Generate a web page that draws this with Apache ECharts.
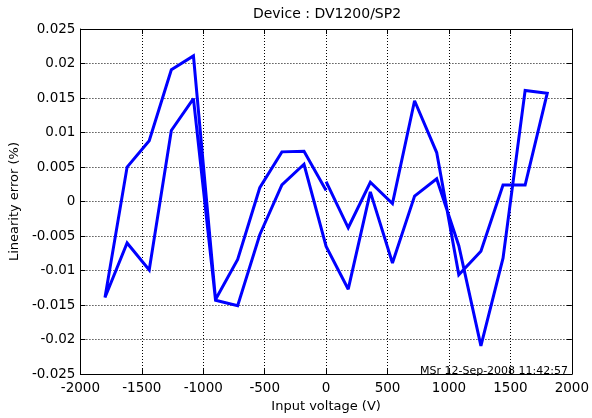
<!DOCTYPE html>
<html>
<head>
<meta charset="utf-8">
<script src="https://cdn.jsdelivr.net/npm/echarts@6/dist/echarts.min.js"></script>
<style>
html,body{margin:0;padding:0;background:#fff;}
#chart{width:592px;height:418px;}
</style>
</head>
<body>
<div id="chart"></div>
<script>
// Sweep 1: 0 V -> +1800 V
const voltsOut = [0, 180, 360, 540, 720, 900, 1080, 1260, 1440, 1620, 1800];
const errOut = [0.0029, -0.0038, 0.0028, -0.0003, 0.0146, 0.0071, -0.0106, -0.0072, 0.0024, 0.0024, 0.0157];
// Sweep 2: +1800 V -> -1800 V
const voltsBack = [1800, 1620, 1440, 1260, 1080, 900, 720, 540, 360, 180, 0, -180, -360, -540, -720, -900, -1080, -1260, -1440, -1620, -1800];
const errBack = [0.0157, 0.0161, -0.0082, -0.0209, -0.0064, 0.0033, 0.0008, -0.0089, 0.0014, -0.0127, -0.0065, 0.0054, 0.0024, -0.0048, -0.0151, -0.0143, 0.0149, 0.0103, -0.0099, -0.0060, -0.0139];
// Sweep 3: -1800 V -> 0 V
const voltsReturn = [-1800, -1620, -1440, -1260, -1080, -900, -720, -540, -360, -180, 0];
const errReturn = [-0.0139, 0.0050, 0.0088, 0.0191, 0.0211, -0.0142, -0.0084, 0.0020, 0.0072, 0.0073, 0.0016];

const xTicks = [-2000, -1500, -1000, -500, 0, 500, 1000, 1500, 2000];
const yTicks = [-0.025, -0.02, -0.015, -0.01, -0.005, 0, 0.005, 0.01, 0.015, 0.02, 0.025];

const titleText = 'Device : DV1200/SP2';
const xName = 'Input voltage (V)';
const yName = 'Linearity error (%)';
const stampText = 'MSr 12-Sep-2008 11:42:57';

const pathData = [];
voltsOut.forEach((v, i) => pathData.push([v, errOut[i]]));
voltsBack.forEach((v, i) => { if (i > 0) pathData.push([v, errBack[i]]); });
voltsReturn.forEach((v, i) => { if (i > 0) pathData.push([v, errReturn[i]]); });

const FONT = 'DejaVu Sans';
const chart = echarts.init(document.getElementById('chart'), null, {renderer: 'canvas'});

const baseX = {
  type: 'value', min: xTicks[0], max: xTicks[xTicks.length - 1], interval: 500,
  axisLine: {onZero: false, lineStyle: {color: '#000', width: 1}},
  axisTick: {inside: true, length: 5, lineStyle: {color: '#000'}}
};
const baseY = {
  type: 'value', min: yTicks[0], max: yTicks[yTicks.length - 1], interval: 0.005,
  axisLine: {onZero: false, lineStyle: {color: '#000', width: 1}},
  axisTick: {inside: true, length: 5, lineStyle: {color: '#000'}}
};

chart.setOption({
  animation: false,
  backgroundColor: '#fff',
  grid: {left: 79, right: 17, top: 29, bottom: 41, containLabel: false},
  xAxis: [
    Object.assign({}, baseX, {
      position: 'bottom',
      name: xName, nameLocation: 'middle', nameGap: 25,
      nameTextStyle: {fontFamily: FONT, fontSize: 13, color: '#000'},
      axisLabel: {fontFamily: FONT, fontSize: 13.5, color: '#000', margin: 7,
        formatter: v => String(v)},
      splitLine: {show: true, lineStyle: {color: '#000', width: 1, type: [1, 2]}}
    }),
    Object.assign({}, baseX, {
      position: 'top', axisLabel: {show: false}, splitLine: {show: false}
    })
  ],
  yAxis: [
    Object.assign({}, baseY, {
      position: 'left',
      name: yName, nameLocation: 'middle', nameGap: 58,
      nameTextStyle: {fontFamily: FONT, fontSize: 13, color: '#000'},
      axisLabel: {fontFamily: FONT, fontSize: 13.5, color: '#000', margin: 5,
        formatter: v => String(parseFloat(v.toFixed(4)))},
      splitLine: {show: true, lineStyle: {color: '#000', width: 1, type: [1, 2]}}
    }),
    Object.assign({}, baseY, {
      position: 'right', axisLabel: {show: false}, splitLine: {show: false}
    })
  ],
  series: [{
    type: 'line',
    data: pathData,
    showSymbol: false,
    symbol: 'none',
    lineStyle: {color: '#0000ff', width: 3, join: 'miter', miterLimit: 2.5, cap: 'butt'},
    z: 5
  }],
  graphic: [
    {type: 'text', z: 10,
      style: {text: titleText, font: '14px "DejaVu Sans"', fill: '#000', textAlign: 'center', textVerticalAlign: 'middle', x: 327, y: 14.5}},
    {type: 'text', z: 10,
      style: {text: stampText, font: '11px "DejaVu Sans"', fill: '#000', textAlign: 'right', textVerticalAlign: 'middle', x: 568, y: 371}}
  ]
});
</script>
</body>
</html>
